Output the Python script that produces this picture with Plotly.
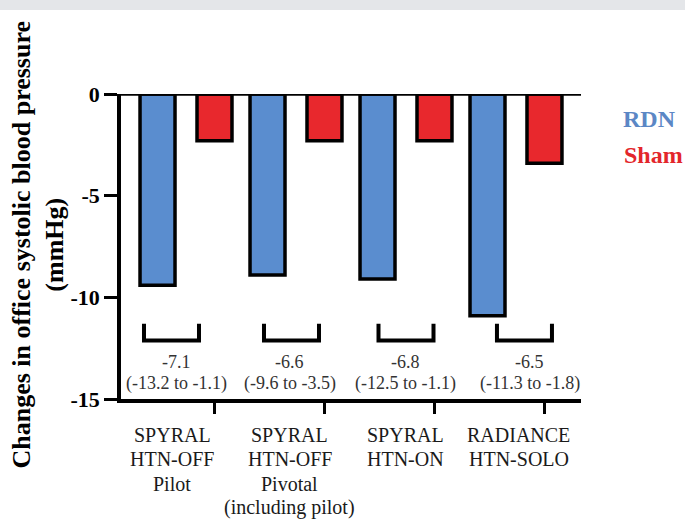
import plotly.graph_objects as go

# ---------------- data ----------------
categories = [
    ["SPYRAL", "HTN-OFF", "Pilot"],
    ["SPYRAL", "HTN-OFF", "Pivotal", "(including pilot)"],
    ["SPYRAL", "HTN-ON"],
    ["RADIANCE", "HTN-SOLO"],
]
rdn_values = [-9.4, -8.9, -9.1, -10.9]
sham_values = [-2.3, -2.3, -2.3, -3.4]
diff_labels = ["-7.1", "-6.6", "-6.8", "-6.5"]
ci_labels = ["(-13.2 to -1.1)", "(-9.6 to -3.5)", "(-12.5 to -1.1)", "(-11.3 to -1.8)"]
y_ticks = [0, -5, -10, -15]

# ---------------- style / layout constants ----------------
BLUE = "#5a8dcf"
RED = "#e8282d"
FONT = "Liberation Serif, Times New Roman, serif"
W, H = 685, 519
ML, MR, MT, MB = 121, 104, 94, 120
PW, PH = W - ML - MR, H - MT - MB
OFF = 0.259          # bar offset from group centre (group units)
BW = 0.318           # bar width (group units)
bracket_off = [-0.132, -0.041, 0.0, 0.077]
text_off = [-0.082, -0.055, -0.009, 0.127]
label_off = [-0.127, -0.055, -0.009, 0.027]

def py2paper(py):
    return (H - MB - py) / PH

def px2paper(px):
    return (px - ML) / PW

groups = list(range(len(rdn_values)))
x_rdn = [g - OFF for g in groups]
x_sham = [g + OFF for g in groups]

fig = go.Figure()
fig.add_trace(go.Bar(x=x_rdn, y=rdn_values, width=BW, name="RDN",
                     marker=dict(color=BLUE, line=dict(color="black", width=3.5))))
fig.add_trace(go.Bar(x=x_sham, y=sham_values, width=BW, name="Sham",
                     marker=dict(color=RED, line=dict(color="black", width=3.5))))

shapes = []
# top grey band
shapes.append(dict(type="rect", xref="paper", yref="paper",
                   x0=px2paper(0), x1=px2paper(W), y0=py2paper(10), y1=py2paper(0),
                   fillcolor="#e4e6e9", line=dict(width=0), layer="below"))
# zero line
shapes.append(dict(type="line", xref="paper", yref="y", x0=0, x1=1, y0=0, y1=0,
                   line=dict(color="black", width=3.5)))
# brackets
for g in groups:
    c = g + bracket_off[g]
    shapes.append(dict(type="path", xref="x", yref="y",
                       path=f"M {c-0.25},-11.3 L {c-0.25},-12.12 L {c+0.25},-12.12 L {c+0.25},-11.3",
                       line=dict(color="black", width=4)))

annotations = []
for g in groups:
    annotations.append(dict(x=g + text_off[g], y=-13.17, xref="x", yref="y", text=diff_labels[g],
                            showarrow=False, xanchor="center", yanchor="middle",
                            font=dict(family=FONT, size=18, color="#333333")))
    annotations.append(dict(x=g + text_off[g], y=-14.22, xref="x", yref="y", text=ci_labels[g],
                            showarrow=False, xanchor="center", yanchor="middle",
                            font=dict(family=FONT, size=18, color="#333333")))
    for k, line in enumerate(categories[g]):
        annotations.append(dict(x=g + label_off[g], y=py2paper(435 + 24.3 * k), xref="x", yref="paper",
                                text=line, showarrow=False, xanchor="center", yanchor="middle",
                                font=dict(family=FONT, size=20, color="#1a1a1a")))

# y-axis title
annotations.append(dict(x=px2paper(38.5), y=py2paper(245), xref="paper", yref="paper",
                        text="Changes in office systolic blood pressure<br>(mmHg)",
                        textangle=-90, showarrow=False, xanchor="center", yanchor="middle",
                        font=dict(family=FONT, size=26, color="black", weight="bold")))
# legend text
annotations.append(dict(x=px2paper(621), y=py2paper(119), xref="paper", yref="paper", text="RDN",
                        xanchor="left", yanchor="middle", showarrow=False,
                        font=dict(family=FONT, size=24, color="#5b87c5", weight="bold")))
annotations.append(dict(x=px2paper(622), y=py2paper(155), xref="paper", yref="paper", text="Sham",
                        xanchor="left", yanchor="middle", showarrow=False,
                        font=dict(family=FONT, size=24, color="#e3262b", weight="bold")))

fig.update_layout(
    width=W, height=H,
    margin=dict(l=ML, r=MR, t=MT, b=MB),
    paper_bgcolor="white", plot_bgcolor="white",
    barmode="overlay", showlegend=False,
    shapes=shapes, annotations=annotations,
    xaxis=dict(range=[-0.591, 3.591], showgrid=False, zeroline=False,
               showline=True, linecolor="black", linewidth=3.5,
               tickvals=x_sham, ticktext=["" for _ in x_sham],
               ticks="outside", ticklen=11, tickwidth=3, tickcolor="black"),
    yaxis=dict(range=[-15, 0], showgrid=False, zeroline=False,
               showline=True, linecolor="black", linewidth=3.5,
               tickvals=y_ticks, ticktext=[str(v) for v in y_ticks],
               ticks="outside", ticklen=13, tickwidth=3, tickcolor="black",
               tickfont=dict(family=FONT, size=22, color="black", weight="bold")),
)

fig.write_html("out.html")
